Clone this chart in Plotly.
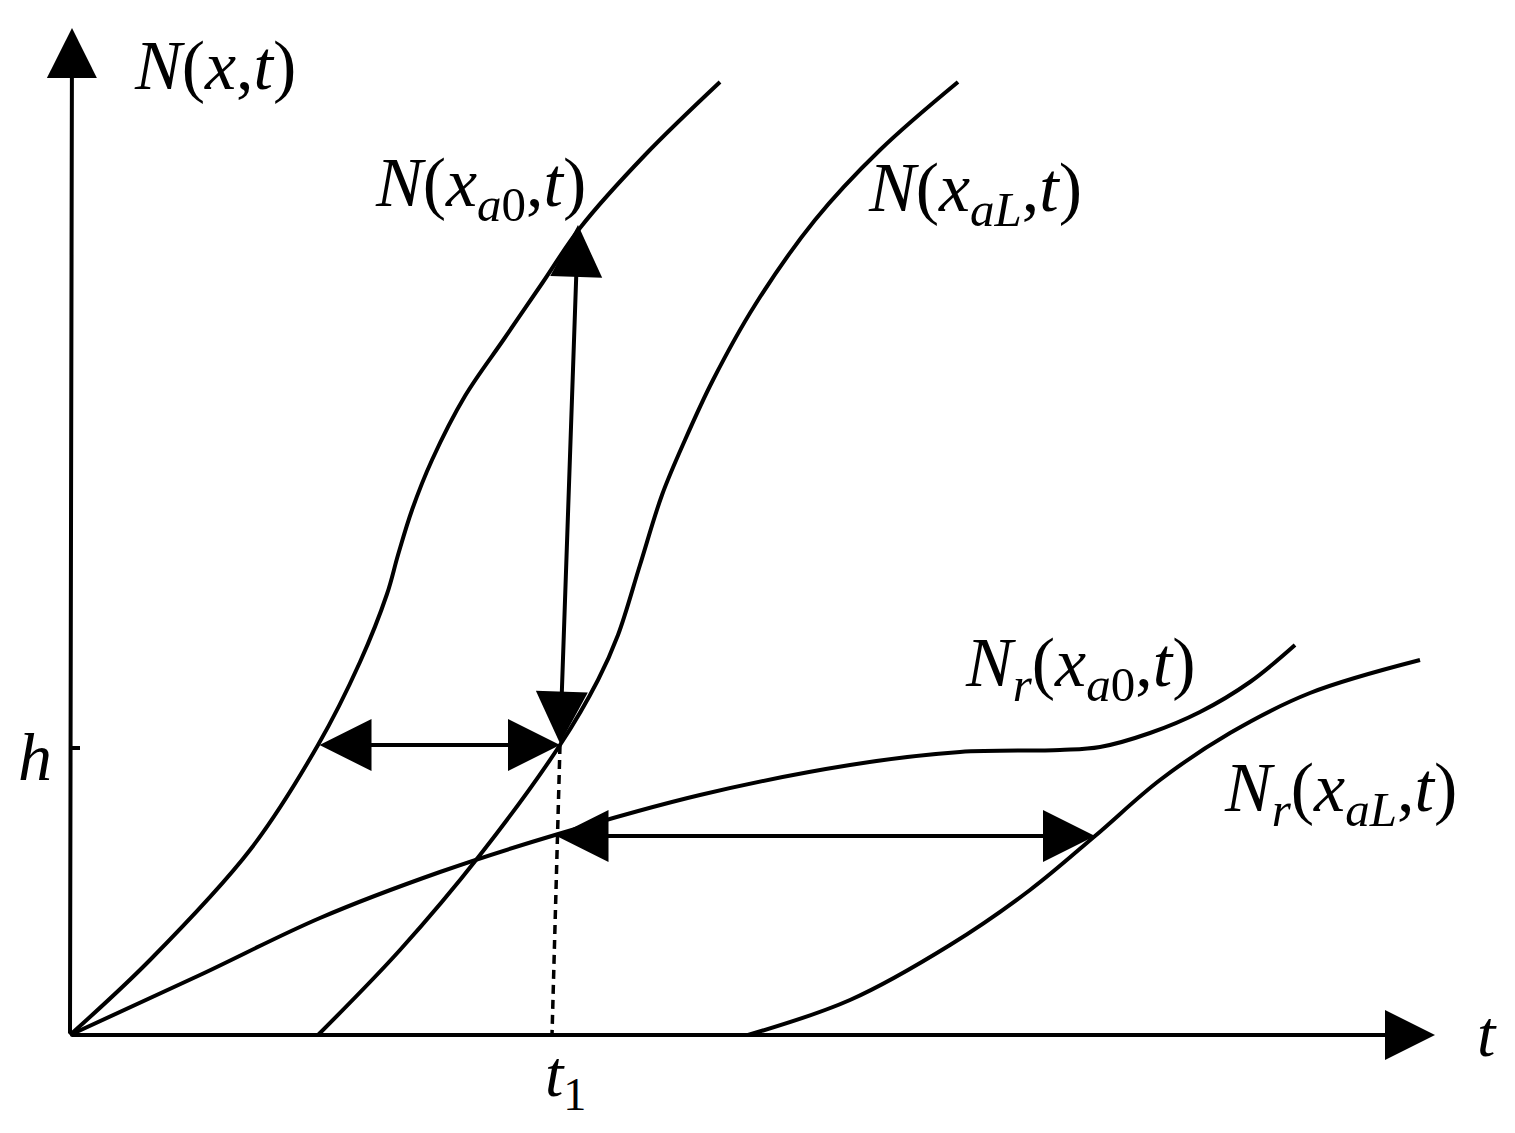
import plotly.graph_objects as go

# curve samples (t, N), origin at the axes corner
t_a0 = [0, 80, 180, 248, 290, 317, 328, 342, 362, 395, 434, 473, 510, 575, 650]
n_a0 = [0, 75, 185, 290, 373, 441, 480, 525, 575, 639, 696, 753, 807, 880, 953]

t_aL = [248, 330, 410, 490, 528, 548, 570, 592, 615, 643, 685, 745, 810, 888]
n_aL = [0, 85, 180, 290, 355, 400, 470, 540, 595, 655, 730, 815, 885, 953]

t_r_a0 = [0, 130, 250, 370, 485, 630, 780, 890, 990, 1030, 1080, 1130, 1180, 1225]
n_r_a0 = [0, 60, 117, 163, 200, 240, 270, 283, 285, 288, 302, 323, 353, 390]

t_r_aL = [678, 780, 880, 960, 1025, 1090, 1160, 1240, 1350]
n_r_aL = [0, 35, 90, 145, 199, 255, 302, 342, 375]

h = 290
t1 = 490
t1_base = 482
n_top = 810
t_top = 508
n_lower = 199
t_lower_end = 1025
t_max = 1365
n_max = 1007

INK = "black"
SERIF = "Liberation Serif, Times New Roman, serif"

fig = go.Figure()
for tx, ny in [(t_a0, n_a0), (t_aL, n_aL), (t_r_a0, n_r_a0), (t_r_aL, n_r_aL)]:
    fig.add_trace(go.Scatter(x=tx, y=ny, mode="lines",
                             line=dict(color=INK, width=4, shape="spline", smoothing=1.0),
                             hoverinfo="skip", showlegend=False))

# dashed drop line at t1
fig.add_trace(go.Scatter(x=[t1, t1_base], y=[h, 0], mode="lines",
                         line=dict(color=INK, width=3.5, dash="9px,6px"),
                         hoverinfo="skip", showlegend=False))
# h tick
fig.add_trace(go.Scatter(x=[0, 10], y=[h - 3, h - 3], mode="lines",
                         line=dict(color=INK, width=4),
                         hoverinfo="skip", showlegend=False))


def arrow(x0, y0, x1, y1, both=False, width=4, size=2.6):
    fig.add_annotation(x=x1, y=y1, ax=x0, ay=y0, xref="x", yref="y", axref="x", ayref="y",
                       text="", showarrow=True, arrowhead=2, startarrowhead=2,
                       arrowsize=size, startarrowsize=size, arrowwidth=width, arrowcolor=INK,
                       arrowside="end+start" if both else "end", standoff=0, startstandoff=0)


# axes
arrow(0, 0, 2, n_max, width=4, size=2.5)
arrow(0, 0, t_max, 0, width=4, size=2.5)
# measurement arrows
arrow(t_a0[3], h, t1, h, both=True)
arrow(t1, h, t_top, n_top, both=True)
arrow(t1 - 5, n_lower, t_lower_end, n_lower, both=True)

labels = [
    (145, 970, "<i>N</i>(<i>x</i>,<i>t</i>)", 70),
    (410, 847, "<i>N</i>(<i>x</i><sub><i>a</i>0</sub>,<i>t</i>)", 70),
    (905, 842, "<i>N</i>(<i>x</i><sub><i>aL</i></sub>,<i>t</i>)", 70),
    (1010, 367, "<i>N</i><sub><i>r</i></sub>(<i>x</i><sub><i>a</i>0</sub>,<i>t</i>)", 70),
    (1270, 242, "<i>N</i><sub><i>r</i></sub>(<i>x</i><sub><i>aL</i></sub>,<i>t</i>)", 70),
    (-35, 278, "<i>h</i>", 68),
    (495, -43, "<i>t</i><sub>1</sub>", 66),
    (1417, 2, "<i>t</i>", 66),
]
for x, y, txt, size in labels:
    fig.add_annotation(x=x, y=y, xref="x", yref="y", text=txt, showarrow=False,
                       font=dict(family=SERIF, size=size, color=INK))

# page body adds an 8px offset, so shift the ranges to keep the origin at (70, 1035)
fig.update_layout(
    width=1515, height=1133,
    margin=dict(l=0, r=0, t=0, b=0),
    paper_bgcolor="white", plot_bgcolor="white",
    xaxis=dict(range=[-62, 1453], visible=False, fixedrange=True),
    yaxis=dict(range=[-106, 1027], visible=False, fixedrange=True),
)
fig.write_html("out.html")
